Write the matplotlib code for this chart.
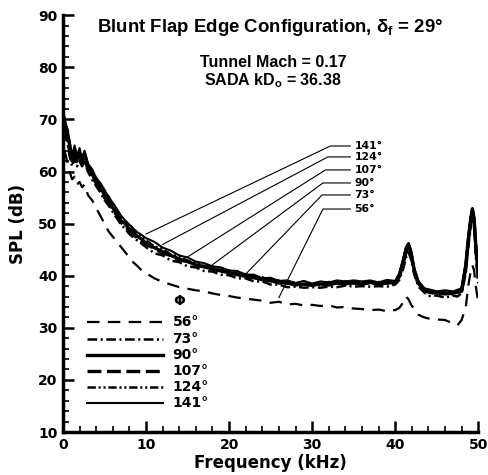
import matplotlib
matplotlib.use("Agg")
import matplotlib.pyplot as plt
from matplotlib.ticker import MultipleLocator

plt.rcParams.update({
    "font.family": ["DejaVu Sans"],
    "font.weight": "bold",
    "mathtext.fontset": "custom",
    "mathtext.rm": "Liberation Sans:bold",
    "mathtext.it": "Liberation Sans:bold",
    "mathtext.bf": "Liberation Sans:bold",
    "lines.scale_dashes": False,
})
HEAD_FONT = ["Liberation Sans", "DejaVu Sans"]

# ── Data ────────────────────────────────────────────────────────────────────
FREQ = [0.2, 0.5, 0.8, 1.1, 1.4, 1.7, 2.0, 2.3, 2.6, 3.0,
        3.5, 4.0, 4.5, 5.0, 5.5, 6.0, 6.5, 7.0, 7.5, 8.0,
        8.5, 9.0, 9.5, 10, 11, 12, 13, 14, 15, 16,
        17, 18, 19, 20, 21, 22, 23, 24, 25, 26,
        27, 28, 29, 30, 31, 32, 33, 34, 35, 36,
        37, 38, 39, 40, 40.5, 41, 41.3, 41.6, 41.9, 42.3,
        42.8, 43.5, 44, 45, 46, 47, 47.5, 48, 48.5, 48.8,
        49.1, 49.3, 49.5, 49.7, 50]

SPL_56 = [64.0, 62.0, 60.0, 58.5, 59.0, 57.5, 58.0, 57.0, 57.5, 55.5,
          54.5, 53.0, 51.5, 50.0, 48.5, 47.5, 46.5, 45.5, 44.5, 43.5,
          42.5, 41.8, 41.0, 40.5, 39.5, 38.8, 38.3, 37.8, 37.5, 37.2,
          37.0, 36.6, 36.3, 36.1, 35.8, 35.6, 35.4, 35.2, 34.8, 35.0,
          34.5, 34.6, 34.3, 34.4, 34.2, 34.3, 33.9, 34.0, 33.7, 33.6,
          33.4, 33.5, 33.2, 33.4, 33.8, 35.0, 36.0, 35.5, 34.5, 33.5,
          32.5, 32.0, 31.8, 31.6, 31.5, 30.8, 30.5, 31.5, 34.0, 38.0,
          41.0, 42.0, 41.0, 38.0, 35.0]

SPL_73 = [67.5, 66.0, 63.0, 61.0, 62.5, 61.0, 62.0, 61.0, 62.0, 60.0,
          58.5, 57.2, 56.0, 54.5, 53.5, 52.2, 51.0, 49.8, 49.0, 48.0,
          47.3, 46.7, 46.1, 45.5, 44.3, 43.9, 42.9, 42.6, 41.8, 41.6,
          40.9, 40.8, 40.2, 40.1, 39.5, 39.5, 38.9, 38.9, 38.3, 38.3,
          37.8, 37.9, 37.7, 37.8, 37.7, 37.9, 37.8, 38.1, 37.9, 38.0,
          37.9, 38.0, 37.9, 38.3, 39.2, 41.5, 43.5, 44.5, 43.2, 40.2,
          37.9, 36.8, 36.1, 36.2, 35.8, 36.2, 36.0, 36.7, 40.5, 45.5,
          49.5, 51.0, 49.5, 44.0, 38.5]

SPL_90 = [69.5, 68.0, 65.0, 62.0, 64.0, 62.5, 63.5, 62.0, 63.5, 61.0,
          59.5, 58.0, 57.0, 55.5, 54.5, 53.0, 52.0, 50.5, 50.0, 48.8,
          48.2, 47.5, 47.0, 46.2, 45.4, 44.6, 43.9, 43.2, 42.7, 42.1,
          41.7, 41.3, 40.9, 40.6, 40.2, 39.9, 39.6, 39.3, 39.0, 38.7,
          38.6, 38.3, 38.4, 38.2, 38.4, 38.3, 38.6, 38.5, 38.6, 38.4,
          38.7, 38.4, 38.6, 38.7, 40.0, 43.0, 45.0, 46.0, 44.5, 41.0,
          38.5, 37.3, 36.9, 36.7, 36.5, 36.7, 36.8, 37.2, 42.0, 47.0,
          51.0, 52.8, 51.0, 46.0, 40.0]

SPL_107 = [68.5, 66.5, 64.0, 61.5, 63.0, 61.5, 62.8, 61.5, 62.5, 60.5,
           59.0, 57.8, 56.5, 55.0, 54.0, 52.8, 51.5, 50.2, 49.5, 48.5,
           47.8, 47.2, 46.5, 46.0, 45.3, 44.3, 43.9, 43.0, 42.8, 41.9,
           41.8, 41.1, 41.1, 40.4, 40.4, 39.8, 39.8, 39.2, 39.2, 38.6,
           38.7, 38.2, 38.6, 38.1, 38.6, 38.2, 38.7, 38.4, 38.8, 38.3,
           38.8, 38.3, 38.8, 38.6, 39.8, 42.5, 44.5, 45.5, 44.0, 40.8,
           38.3, 37.1, 36.9, 36.5, 36.7, 36.5, 36.9, 37.0, 41.5, 46.5,
           50.5, 52.2, 50.5, 45.5, 39.5]

SPL_124 = [69.0, 67.5, 64.5, 62.5, 63.5, 62.0, 63.0, 62.8, 63.0, 61.2,
           60.0, 58.5, 57.5, 56.0, 55.2, 53.5, 52.5, 51.2, 50.3, 49.3,
           48.6, 48.0, 47.3, 46.8, 45.6, 45.2, 44.0, 43.8, 42.8, 42.6,
           41.8, 41.7, 40.9, 41.0, 40.3, 40.3, 39.6, 39.7, 39.0, 39.1,
           38.5, 38.7, 38.3, 38.6, 38.3, 38.8, 38.3, 38.9, 38.5, 38.8,
           38.7, 38.8, 38.5, 38.9, 40.2, 43.2, 45.3, 46.1, 44.8, 41.2,
           38.8, 37.5, 37.3, 36.8, 37.0, 36.8, 37.2, 37.4, 42.2, 47.2,
           51.2, 52.5, 50.8, 45.5, 40.5]

SPL_141 = [70.5, 67.0, 66.0, 63.0, 65.0, 63.0, 64.5, 62.5, 64.0, 61.5,
           60.5, 58.8, 57.8, 56.5, 55.0, 54.0, 52.8, 51.5, 50.6, 49.8,
           49.0, 48.3, 47.8, 47.2, 46.5, 45.4, 44.8, 43.9, 43.5, 42.7,
           42.4, 41.8, 41.6, 41.0, 40.9, 40.2, 40.2, 39.5, 39.6, 39.0,
           39.1, 38.6, 39.0, 38.5, 38.9, 38.7, 39.1, 38.9, 39.1, 38.9,
           39.1, 38.7, 39.2, 39.0, 40.5, 43.5, 45.5, 46.3, 45.0, 41.5,
           39.0, 37.6, 37.4, 37.0, 37.2, 37.0, 37.3, 37.6, 42.5, 47.5,
           51.5, 53.0, 51.5, 46.5, 41.0]

ANGLES = ["56°", "73°", "90°", "107°", "124°", "141°"]
SERIES = [SPL_56, SPL_73, SPL_90, SPL_107, SPL_124, SPL_141]

# leader-line anchor: index into FREQ where each callout touches its curve
LEADER_IDX = [39, 35, 31, 28, 25, 23]

# ── Styles ──────────────────────────────────────────────────────────────────
STYLES = [
    dict(lw=1.6, dashes=(9, 6)),                   # 56  dashed
    dict(lw=1.8, dashes=(7, 2.5, 1.5, 2.5)),       # 73  dash-dot
    dict(lw=2.4, dashes=()),                       # 90  solid thick
    dict(lw=2.4, dashes=(10, 4)),                  # 107 long dash
    dict(lw=1.8, dashes=(6, 2, 1.5, 2, 1.5, 2)),   # 124 dash-dot-dot
    dict(lw=1.5, dashes=()),                       # 141 solid thin
]

fig = plt.figure(figsize=(4.88, 4.75), dpi=100)
ax = fig.add_axes([0.129, 0.0905, 0.851, 0.8775])

for spl, st in zip(SERIES, STYLES):
    line, = ax.plot(FREQ, spl, color="black", lw=st["lw"], solid_joinstyle="round")
    if st["dashes"]:
        line.set_dashes(st["dashes"])

# callout labels on the right
label_y = [52.8, 55.5, 57.8, 60.3, 62.8, 64.9]
elbow_x = [31.3, 31.2, 31.3, 31.6, 31.9, 32.2]
for ang, spl, i, ly, ex in zip(ANGLES, SERIES, LEADER_IDX, label_y, elbow_x):
    ax.plot([FREQ[i], ex, 34.6], [spl[i] + 0.8, ly, ly], color="black", lw=0.8)
    ax.text(35.1, ly, ang, fontsize=7.8, va="center", ha="left")

# hand-drawn legend in the lower left
ax.text(14.0, 35.2, "Φ", fontsize=10, ha="center", va="center")
leg_y = [31.1, 27.8, 24.8, 21.7, 18.6, 15.6]
for ang, st, ly in zip(ANGLES, STYLES, leg_y):
    line, = ax.plot([2.9, 12.0], [ly, ly], color="black", lw=st["lw"])
    if st["dashes"]:
        line.set_dashes(st["dashes"])
    ax.text(13.2, ly, ang, fontsize=10, va="center", ha="left")

ax.text(0.50, 0.971, "Blunt Flap Edge Configuration, δ$_{\\mathrm{f}}$ = 29°",
        transform=ax.transAxes, ha="center", va="center", fontsize=13.4,
        family=HEAD_FONT)
ax.text(0.506, 0.887, "Tunnel Mach = 0.17", transform=ax.transAxes,
        ha="center", va="center", fontsize=11.5, family=HEAD_FONT)
ax.text(0.506, 0.844, "SADA kD$_{\\mathrm{o}}$ = 36.38", transform=ax.transAxes,
        ha="center", va="center", fontsize=11.5, family=HEAD_FONT)

ax.set_xlim(0, 50)
ax.set_ylim(10, 90)
ax.xaxis.set_major_locator(MultipleLocator(10))
ax.xaxis.set_minor_locator(MultipleLocator(2))
ax.yaxis.set_major_locator(MultipleLocator(10))
ax.yaxis.set_minor_locator(MultipleLocator(2))
ax.spines["top"].set_visible(False)
ax.spines["right"].set_visible(False)
for s in ("left", "bottom"):
    ax.spines[s].set_linewidth(2.5)
ax.tick_params(which="major", direction="in", length=8, width=1.8, labelsize=10, pad=4)
ax.tick_params(which="minor", direction="in", length=4.5, width=1.2)
for lab in ax.get_xticklabels() + ax.get_yticklabels():
    lab.set_fontweight("bold")

ax.set_xlabel("Frequency (kHz)", fontsize=12, fontweight="bold", labelpad=2)
ax.set_ylabel("SPL (dB)", fontsize=12, fontweight="bold", labelpad=8)

fig.savefig("out.png", dpi=100)
